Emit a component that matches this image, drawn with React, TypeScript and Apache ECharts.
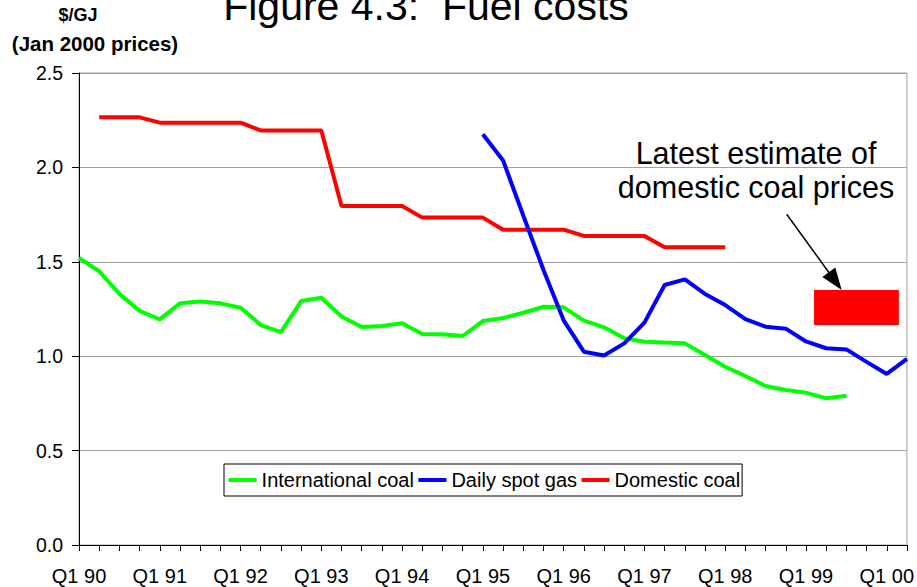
import React, { useEffect, useRef } from "react";
import * as echarts from "echarts";

const quarters = [
  "Q1 90", "Q2 90", "Q3 90", "Q4 90",
  "Q1 91", "Q2 91", "Q3 91", "Q4 91",
  "Q1 92", "Q2 92", "Q3 92", "Q4 92",
  "Q1 93", "Q2 93", "Q3 93", "Q4 93",
  "Q1 94", "Q2 94", "Q3 94", "Q4 94",
  "Q1 95", "Q2 95", "Q3 95", "Q4 95",
  "Q1 96", "Q2 96", "Q3 96", "Q4 96",
  "Q1 97", "Q2 97", "Q3 97", "Q4 97",
  "Q1 98", "Q2 98", "Q3 98", "Q4 98",
  "Q1 99", "Q2 99", "Q3 99", "Q4 99",
  "Q1 00", "Q2 00",
];

const internationalCoal = [
  1.52, 1.45, 1.33, 1.24, 1.195, 1.28, 1.29, 1.28, 1.257, 1.165,
  1.128, 1.292, 1.31, 1.21, 1.155, 1.16, 1.174, 1.118, 1.116, 1.107,
  1.186, 1.202, 1.23, 1.262, 1.259, 1.188, 1.153, 1.095, 1.077, 1.072,
  1.068, 1.006, 0.944, 0.895, 0.842, 0.821, 0.807, 0.777, 0.791,
  null, null, null,
];

const dailySpotGas = [
  null, null, null, null, null, null, null, null, null, null,
  null, null, null, null, null, null, null, null, null, null,
  2.176, 2.037, 1.745, 1.457, 1.19, 1.024, 1.004, 1.068, 1.178, 1.377,
  1.407, 1.33, 1.271, 1.196, 1.156, 1.146, 1.078, 1.042, 1.036, 0.97,
  0.906, 0.986,
];

const domesticCoal = [
  null, 2.265, 2.265, 2.265, 2.237, 2.237, 2.237, 2.237, 2.237, 2.196,
  2.196, 2.196, 2.196, 1.795, 1.795, 1.795, 1.795, 1.734, 1.734, 1.734,
  1.734, 1.67, 1.67, 1.67, 1.67, 1.637, 1.637, 1.637, 1.637, 1.577,
  1.577, 1.577, 1.577, null, null, null, null, null, null, null,
  null, null,
];

// Latest estimate of domestic coal prices (value range and quarter-index span)
const estimateRange = [1.165, 1.35];
const estimateSpan = [36.4, 40.6];

const yTicks = { min: 0, max: 2.5, interval: 0.5 };

const FONT = '"Liberation Sans", Arial, sans-serif';

export default function App() {
  const ref = useRef<HTMLDivElement>(null);

  useEffect(() => {
    if (!ref.current) return;
    const chart = echarts.init(ref.current, null, { renderer: "svg" });
    const option: any = {
      animation: false,
      backgroundColor: "#fff",
      textStyle: { fontFamily: FONT },
      grid: {
        left: 79,
        right: 8,
        top: 73,
        bottom: 42,
        show: true,
        borderColor: "#a0a0a0",
        borderWidth: 1,
        backgroundColor: "transparent",
      },
      legend: {
        left: 224,
        top: 464,
        orient: "horizontal",
        icon: "rect",
        itemWidth: 28,
        itemHeight: 4,
        itemGap: 4.5,
        padding: [6, 2, 6, 4.6],
        borderColor: "#000",
        borderWidth: 1,
        backgroundColor: "#fff",
        textStyle: { fontSize: 20, lineHeight: 20, color: "#000", fontFamily: FONT },
        data: ["International coal", "Daily spot gas", "Domestic coal"],
      },
      xAxis: {
        type: "category",
        data: quarters,
        boundaryGap: false,
        axisLine: { lineStyle: { color: "#000", width: 1 } },
        axisTick: { show: true, length: 6, interval: 0, lineStyle: { color: "#000" } },
        axisLabel: {
          interval: 3,
          margin: 21,
          fontSize: 20,
          lineHeight: 20,
          color: "#000",
          fontFamily: FONT,
        },
        splitLine: { show: false },
      },
      yAxis: {
        type: "value",
        min: yTicks.min,
        max: yTicks.max,
        interval: yTicks.interval,
        axisLine: { show: true, lineStyle: { color: "#000", width: 1 } },
        axisTick: { show: true, length: 7, lineStyle: { color: "#000" } },
        axisLabel: {
          margin: 16,
          fontSize: 19.5,
          color: "#000",
          fontFamily: FONT,
          formatter: (v: number) => v.toFixed(1),
        },
        splitLine: { show: true, lineStyle: { color: "#a0a0a0", width: 1 } },
      },
      series: [
        {
          name: "International coal",
          type: "line",
          data: internationalCoal,
          color: "#00ff00",
          showSymbol: false,
          symbol: "none",
          connectNulls: false,
          lineStyle: { width: 4, color: "#00ff00" },
          z: 2,
        },
        {
          name: "Daily spot gas",
          type: "line",
          data: dailySpotGas,
          color: "#0000ff",
          showSymbol: false,
          symbol: "none",
          connectNulls: false,
          lineStyle: { width: 4, color: "#0000ff" },
          z: 4,
        },
        {
          name: "Domestic coal",
          type: "line",
          data: domesticCoal,
          color: "#ff0000",
          showSymbol: false,
          symbol: "none",
          connectNulls: false,
          lineStyle: { width: 4, color: "#ff0000" },
          z: 3,
        },
      ],
    };
    chart.setOption(option);

    // Estimate box placed via the chart's own scales
    const base = Math.floor(estimateSpan[0]);
    const p0 = chart.convertToPixel({ xAxisIndex: 0 }, quarters[base]) as number;
    const p1 = chart.convertToPixel({ xAxisIndex: 0 }, quarters[base + 1]) as number;
    const step = p1 - p0;
    const xa = p0 + (estimateSpan[0] - base) * step;
    const xb = p0 + (estimateSpan[1] - base) * step;
    const yTop = chart.convertToPixel({ yAxisIndex: 0 }, estimateRange[1]) as number;
    const yBot = chart.convertToPixel({ yAxisIndex: 0 }, estimateRange[0]) as number;

    chart.setOption({
      graphic: [
        {
          type: "text",
          x: 426,
          y: 6,
          style: {
            text: "Figure 4.3:  Fuel costs",
            font: `41px ${FONT}`,
            fill: "#000",
            align: "center",
            verticalAlign: "middle",
          },
        },
        {
          type: "text",
          x: 78,
          y: 15,
          style: {
            text: "$/GJ",
            font: `bold 18px ${FONT}`,
            fill: "#000",
            align: "center",
            verticalAlign: "middle",
          },
        },
        {
          type: "text",
          x: 95,
          y: 43,
          style: {
            text: "(Jan 2000 prices)",
            font: `bold 20.5px ${FONT}`,
            fill: "#000",
            align: "center",
            verticalAlign: "middle",
          },
        },
        {
          type: "text",
          x: 756,
          y: 152.6,
          style: {
            text: "Latest estimate of",
            font: `30.5px ${FONT}`,
            fill: "#000",
            align: "center",
            verticalAlign: "middle",
          },
        },
        {
          type: "text",
          x: 756,
          y: 186.9,
          style: {
            text: "domestic coal prices",
            font: `30.5px ${FONT}`,
            fill: "#000",
            align: "center",
            verticalAlign: "middle",
          },
        },
        {
          type: "rect",
          shape: { x: xa, y: yTop, width: xb - xa, height: yBot - yTop },
          style: { fill: "#ff0000" },
          z: 10,
        },
        {
          type: "line",
          shape: { x1: 786.7, y1: 214.3, x2: 830, y2: 274 },
          style: { stroke: "#000", lineWidth: 1.5 },
          z: 10,
        },
        {
          type: "polygon",
          shape: { points: [[841.7, 290], [822.3, 276.9], [835.3, 267.5]] },
          style: { fill: "#000" },
          z: 10,
        },
      ],
    });

    return () => chart.dispose();
  }, []);

  return (
    <div
      ref={ref}
      style={{ position: "absolute", left: 0, top: 0, width: 917, height: 587 }}
    />
  );
}
